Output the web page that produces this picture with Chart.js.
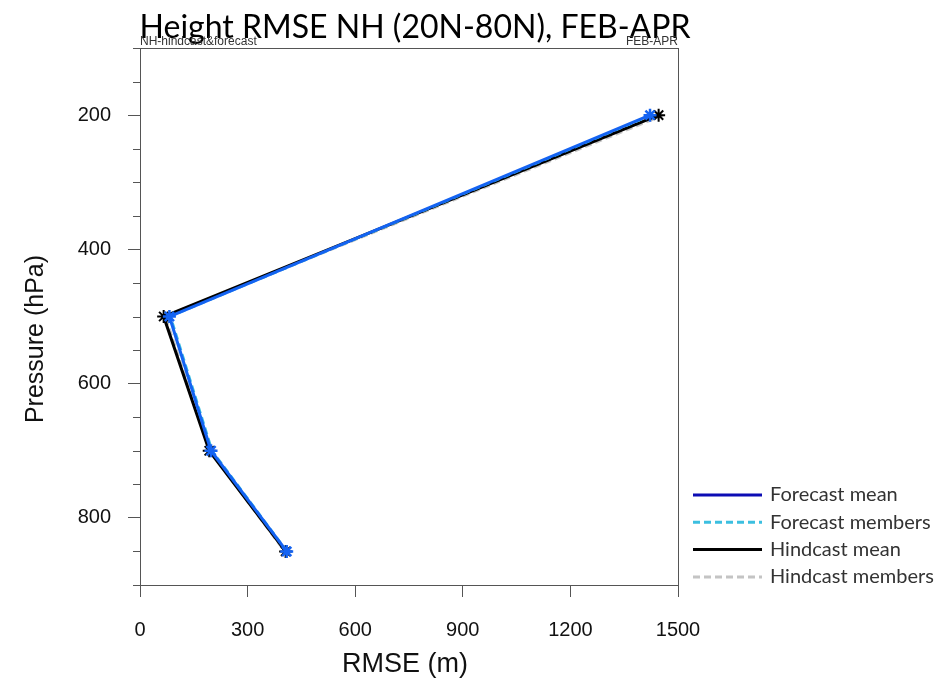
<!DOCTYPE html>
<html>
<head>
<meta charset="utf-8">
<script src="https://cdn.jsdelivr.net/npm/chart.js@4/dist/chart.umd.min.js"></script>
<style>
  html, body { margin: 0; padding: 0; background: #fff; }
  #wrap { width: 947px; height: 684px; position: relative; }
</style>
</head>
<body>
<div id="wrap"><canvas id="rmseChart"></canvas></div>
<script>
// pressure levels (hPa) and RMSE (m) per level
const pressureLevels = [200, 500, 700, 850];
const forecastMean = [1422, 82, 198, 409];
const forecastMembers = [1428, 86, 202, 411];
const hindcastMean = [1446, 66, 193, 406];
const hindcastMembers = [1458, 70, 195, 404];

const xTicks = [0, 300, 600, 900, 1200, 1500];
const yTicks = [200, 400, 600, 800];
const yMinorTicks = [100, 150, 250, 300, 350, 450, 500, 550, 650, 700, 750, 850, 900];

const seriesNames = ['Forecast mean', 'Forecast members', 'Hindcast mean', 'Hindcast members'];

const titleText = 'Height RMSE NH (20N-80N), FEB-APR';
const leftNote = 'NH-hindcast&forecast';
const rightNote = 'FEB-APR';

function toPoints(values) {
    return values.map((v, i) => ({ x: v, y: pressureLevels[i] }));
}

// frame, minor ticks, titles and legend
const decorPlugin = {
    id: 'decor',
    afterDraw(chart) {
        const ctx = chart.ctx;
        const area = chart.chartArea;
        const yScale = chart.scales.y;

        ctx.save();
        ctx.strokeStyle = '#555';
        ctx.lineWidth = 1;
        ctx.strokeRect(area.left + 0.5, area.top + 0.5, area.right - area.left, area.bottom - area.top);

        // minor ticks on the pressure axis
        ctx.beginPath();
        yMinorTicks.forEach(v => {
            const py = Math.round(yScale.getPixelForValue(v)) + 0.5;
            ctx.moveTo(area.left - 7, py);
            ctx.lineTo(area.left, py);
        });
        ctx.stroke();

        // main title
        ctx.fillStyle = '#000';
        ctx.font = '32px Lato, "Open Sans", sans-serif';
        ctx.textAlign = 'center';
        ctx.textBaseline = 'alphabetic';
        ctx.fillText(titleText, 415, 38);

        // small notes above the frame
        ctx.fillStyle = '#333';
        ctx.font = '12px "Liberation Sans", Arial, sans-serif';
        ctx.textAlign = 'left';
        ctx.fillText(leftNote, area.left, area.top - 3);
        ctx.textAlign = 'right';
        ctx.fillText(rightNote, area.right, area.top - 3);

        // axis titles
        ctx.fillStyle = '#111';
        ctx.font = '27px "Liberation Sans", Arial, sans-serif';
        ctx.textAlign = 'center';
        ctx.textBaseline = 'middle';
        ctx.fillText('RMSE (m)', (area.left + area.right) / 2 - 4, 665);
        ctx.save();
        ctx.translate(36, 339);
        ctx.rotate(-Math.PI / 2);
        ctx.font = '25px "Liberation Sans", Arial, sans-serif';
        ctx.fillText('Pressure (hPa)', 0, 0);
        ctx.restore();

        // legend
        ctx.font = '20px Lato, "Open Sans", sans-serif';
        ctx.textAlign = 'left';
        ctx.textBaseline = 'middle';
        chart.data.datasets.forEach((ds, i) => {
            const ly = 495 + i * 27.3;
            ctx.beginPath();
            ctx.strokeStyle = ds.legendColor || ds.borderColor;
            ctx.lineWidth = 3;
            ctx.setLineDash(ds.borderDash || []);
            ctx.moveTo(693, ly);
            ctx.lineTo(762, ly);
            ctx.stroke();
            ctx.setLineDash([]);
            ctx.fillStyle = '#333';
            ctx.fillText(ds.label, 770, ly);
        });
        ctx.restore();
    }
};

const chart = new Chart(document.getElementById('rmseChart'), {
    type: 'scatter',
    data: {
        datasets: [
            {
                label: seriesNames[0],
                data: toPoints(forecastMean),
                showLine: true,
                borderColor: '#1463f2',
                legendColor: '#0c0cb4',
                backgroundColor: '#1463f2',
                borderWidth: 3,
                pointStyle: 'star',
                pointRadius: 6.5,
                pointBorderWidth: 2.5
            },
            {
                label: seriesNames[1],
                data: toPoints(forecastMembers),
                showLine: true,
                borderColor: '#3cbfe0',
                borderDash: [7, 4],
                borderWidth: 2,
                pointRadius: 0
            },
            {
                label: seriesNames[2],
                data: toPoints(hindcastMean),
                showLine: true,
                borderColor: '#000',
                backgroundColor: '#000',
                borderWidth: 3,
                pointStyle: 'star',
                pointRadius: 6.5,
                pointBorderWidth: 2
            },
            {
                label: seriesNames[3],
                data: toPoints(hindcastMembers),
                showLine: true,
                borderColor: '#c4c4c4',
                borderDash: [7, 4],
                borderWidth: 3,
                pointRadius: 0
            }
        ]
    },
    options: {
        responsive: true,
        maintainAspectRatio: false,
        animation: false,
        events: [],
        layout: {
            padding: { left: 0, right: 269, top: 48, bottom: 0 }
        },
        plugins: {
            legend: { display: false },
            tooltip: { enabled: false }
        },
        scales: {
            x: {
                type: 'linear',
                min: 0,
                max: 1500,
                afterBuildTicks: scale => { scale.ticks = xTicks.map(v => ({ value: v })); },
                afterFit: scale => { scale.height = 99; },
                grid: { drawOnChartArea: false, tickLength: 12, color: '#555' },
                border: { color: '#555' },
                ticks: {
                    color: '#111',
                    padding: 21,
                    maxRotation: 0,
                    callback: value => String(value),
                    font: { family: '"Liberation Sans", Arial, sans-serif', size: 20 }
                }
            },
            y: {
                type: 'linear',
                reverse: true,
                min: 100,
                max: 900,
                afterBuildTicks: scale => { scale.ticks = yTicks.map(v => ({ value: v })); },
                afterFit: scale => { scale.width = 140; },
                grid: { drawOnChartArea: false, tickLength: 12, color: '#555' },
                border: { color: '#555' },
                ticks: {
                    color: '#111',
                    padding: 17,
                    callback: value => String(value),
                    font: { family: '"Liberation Sans", Arial, sans-serif', size: 20 }
                }
            }
        }
    },
    plugins: [decorPlugin]
});
</script>
</body>
</html>
